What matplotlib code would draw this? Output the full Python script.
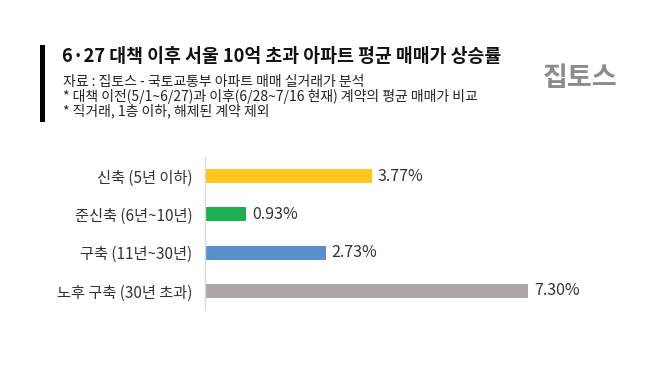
import matplotlib
matplotlib.use("Agg")
import matplotlib.pyplot as plt

plt.rcParams['font.family'] = ['Noto Sans CJK KR', 'DejaVu Sans']

categories = ["신축 (5년 이하)", "준신축 (6년~10년)", "구축 (11년~30년)", "노후 구축 (30년 초과)"]
values = [3.77, 0.93, 2.73, 7.30]
colors = ["#FFC81E", "#1DAF50", "#5B8FCC", "#ABA7A7"]

title = "6·27 대책 이후 서울 10억 초과 아파트 평균 매매가 상승률"
notes = [
    "자료 : 집토스 - 국토교통부 아파트 매매 실거래가 분석",
    "* 대책 이전(5/1~6/27)과 이후(6/28~7/16 현재) 계약의 평균 매매가 비교",
    "* 직거래, 1층 이하, 해제된 계약 제외",
]

W, H = 658, 369
fig = plt.figure(figsize=(W / 100, H / 100), dpi=100)
fig.patch.set_facecolor("white")

# black accent bar next to the title block
fig.add_artist(plt.Rectangle((40 / W, 1 - 122 / H), 5 / W, 77 / H,
                             transform=fig.transFigure, color="black", lw=0))
fig.text(62 / W, 1 - 57 / H, title, fontsize=13.2, fontweight="bold",
         va="center", ha="left", color="#111111")
for i, line in enumerate(notes):
    fig.text(63 / W, 1 - (82 + i * 14.5) / H, line, fontsize=10,
             va="center", ha="left", color="#222222")

# logo
fig.text(580 / W, 1 - 78 / H, "집토스", fontsize=19.5, fontweight="bold",
         va="center", ha="center", color="#8C8C8C")

ax = fig.add_axes([205 / W, 1 - 310 / H, 354 / W, 153 / H])
y = list(range(len(categories)))
ax.barh(y, values, height=0.36, color=colors)
ax.set_xlim(0, 8)
ax.set_ylim(3.5, -0.5)
ax.set_yticks(y)
ax.set_yticklabels(categories, fontsize=11, color="#333333")
ax.tick_params(axis="y", length=0, pad=9)
ax.set_xticks([])
for s in ["top", "right", "bottom"]:
    ax.spines[s].set_visible(False)
ax.spines["left"].set_color("#D9D9D9")
ax.spines["left"].set_linewidth(1)

for yi, v in zip(y, values):
    ax.text(v + 0.13, yi, f"{v:.2f}%", fontsize=11.5, va="center",
            ha="left", color="#333333")

fig.savefig("out.png", dpi=100)
